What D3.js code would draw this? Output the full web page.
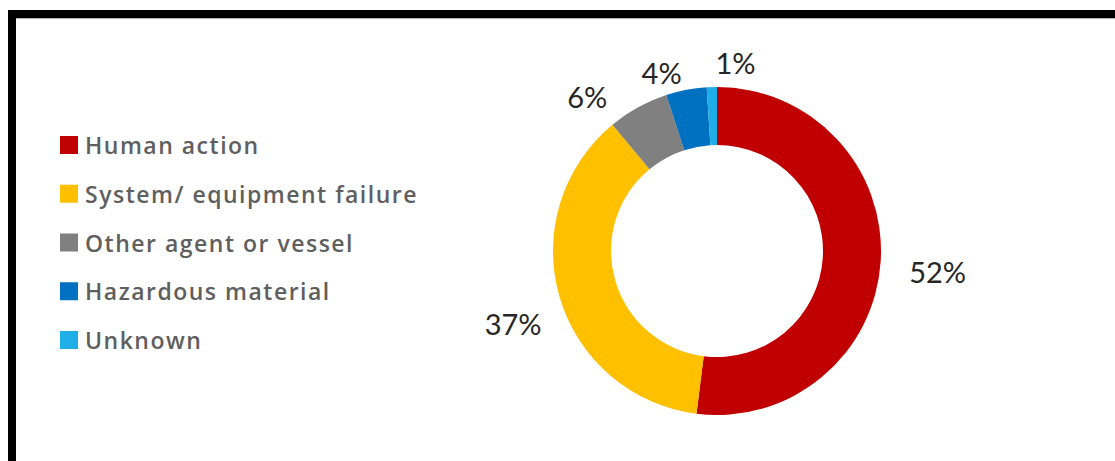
<!DOCTYPE html>
<html>
<head>
<meta charset="utf-8">
<script src="https://cdn.jsdelivr.net/npm/d3@7"></script>
<style>
  html, body { margin: 0; padding: 0; background: #fff; }
  svg { display: block; }
</style>
</head>
<body>
<svg id="chart" width="1115" height="461"></svg>
<script>
// Causes of incidents, share of total (%)
const categories = ["Human action", "System/ equipment failure", "Other agent or vessel", "Hazardous material", "Unknown"];
const shares = [52, 37, 6, 4, 1];
const colors = ["#C00000", "#FFC000", "#808080", "#0070C0", "#1FAEE8"];
// Label placement nudges (px) around each slice's outer centroid
const labelNudge = [[16, 8], [-7, 15], [-31, 25], [-17, 23], [25, 16]];

const W = 1115, H = 461;
const svg = d3.select("#chart");

svg.append("rect").attr("width", W).attr("height", H).attr("fill", "#fff");

// Frame: heavy top and left rules
svg.append("rect").attr("x", 8).attr("y", 10).attr("width", W - 8).attr("height", 8).attr("fill", "#000");
svg.append("rect").attr("x", 8).attr("y", 10).attr("width", 8).attr("height", H - 10).attr("fill", "#000");
svg.append("line").attr("x1", 16).attr("x2", W).attr("y1", 18.5).attr("y2", 18.5)
  .attr("stroke", "#b0b0b0").attr("stroke-width", 1);

// Donut
const cx = 717, cy = 251, rOuter = 164, rInner = 106;
const pie = d3.pie().sort(null).value(d => d)(shares);
const arc = d3.arc().innerRadius(rInner).outerRadius(rOuter);
const g = svg.append("g").attr("transform", `translate(${cx},${cy})`);

g.selectAll("path.slice").data(pie).join("path")
  .attr("class", "slice")
  .attr("d", arc)
  .attr("fill", (d, i) => colors[i]);

const labelArc = d3.arc().innerRadius(205).outerRadius(205);
g.selectAll("text.val").data(pie).join("text")
  .attr("class", "val")
  .attr("x", (d, i) => labelArc.centroid(d)[0] + labelNudge[i][0])
  .attr("y", (d, i) => labelArc.centroid(d)[1] + labelNudge[i][1])
  .attr("text-anchor", "middle")
  .attr("dominant-baseline", "central")
  .attr("font-family", "Lato, 'Open Sans', sans-serif")
  .attr("font-size", 29)
  .attr("fill", "#262626")
  .text(d => d.data + "%");

// Legend
const legend = svg.append("g").attr("transform", "translate(60,0)");
const rowY = d3.scalePoint().domain(categories).range([145, 340]);
const rows = legend.selectAll("g.row").data(categories).join("g")
  .attr("class", "row")
  .attr("transform", d => `translate(0,${rowY(d)})`);
rows.append("rect")
  .attr("x", 0).attr("y", -9).attr("width", 18).attr("height", 18)
  .attr("fill", (d, i) => colors[i]);
rows.append("text")
  .attr("x", 25).attr("y", 0)
  .attr("dominant-baseline", "central")
  .attr("font-family", "'Open Sans', sans-serif")
  .attr("font-size", 23)
  .attr("font-weight", 600)
  .attr("letter-spacing", 1.5)
  .attr("fill", "#5f5f5f")
  .text(d => d);
</script>
</body>
</html>
